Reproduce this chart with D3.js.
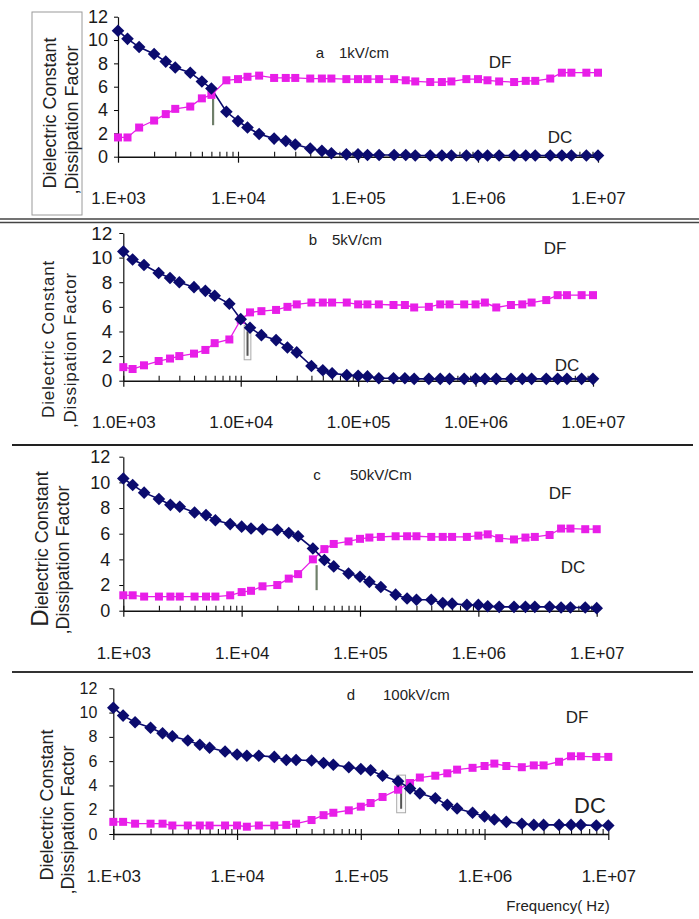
<!DOCTYPE html>
<html lang="en">
<head>
  <meta charset="utf-8" />
  <script src="https://cdn.jsdelivr.net/npm/d3@7"></script>
  <style>
    body { margin: 0; background: #fff; }
    text { font-family: "Liberation Sans", Arial, sans-serif; }
  </style>
</head>
<body>
  <div id="chart"></div>
  <script>
    'use strict';

    // sweep frequencies (Hz), same for every panel
    const freq = [
      1e3, 1.2e3, 1.5e3, 2e3, 2.5e3, 3e3, 4e3, 5e3, 6e3, 8e3,
      1e4, 1.2e4, 1.5e4, 2e4, 2.5e4, 3e4, 4e4, 5e4, 6e4, 8e4,
      1e5, 1.2e5, 1.5e5, 2e5, 2.5e5, 3e5, 4e5, 5e5, 6e5, 8e5,
      1e6, 1.2e6, 1.5e6, 2e6, 2.5e6, 3e6, 4e6, 5e6, 6e6, 8e6,
      1e7
    ];

    // a : 1kV/cm
    const dcA = [10.8, 10.1, 9.4, 8.8, 8.15, 7.65, 7.2, 6.45, 5.85, 3.85,
      3.05, 2.5, 1.95, 1.55, 1.35, 1.05, 0.7, 0.5, 0.3, 0.2,
      0.2, 0.15, 0.15, 0.15, 0.15, 0.1, 0.1, 0.1, 0.1, 0.1,
      0.1, 0.1, 0.1, 0.1, 0.1, 0.1, 0.1, 0.1, 0.1, 0.1, 0.1];
    const dfA = [1.65, 1.65, 2.5, 3.1, 3.65, 4.1, 4.3, 5.0, 5.3, 6.55,
      6.65, 6.85, 6.95, 6.75, 6.75, 6.75, 6.7, 6.7, 6.7, 6.65,
      6.65, 6.65, 6.65, 6.65, 6.55, 6.45, 6.4, 6.4, 6.45, 6.65,
      6.65, 6.55, 6.45, 6.4, 6.5, 6.5, 6.7, 7.2, 7.2, 7.2, 7.2];

    // b : 5kV/cm
    const dcB = [10.5, 9.85, 9.4, 8.75, 8.35, 8.0, 7.6, 7.3, 6.9, 6.25,
      5.0, 4.3, 3.7, 3.3, 2.7, 2.3, 1.2, 0.85, 0.6, 0.45,
      0.4, 0.35, 0.2, 0.2, 0.2, 0.15, 0.15, 0.15, 0.15, 0.15,
      0.15, 0.15, 0.15, 0.15, 0.15, 0.15, 0.15, 0.15, 0.15, 0.15, 0.15];
    const dfB = [1.1, 0.95, 1.25, 1.6, 1.8, 2.0, 2.2, 2.5, 3.05, 3.35,
      4.95, 5.55, 5.65, 5.75, 6.0, 6.2, 6.35, 6.35, 6.35, 6.35,
      6.2, 6.2, 6.2, 6.15, 6.15, 5.95, 6.0, 6.2, 6.2, 6.2,
      6.2, 6.35, 5.95, 6.15, 6.2, 6.35, 6.55, 6.95, 6.95, 6.95, 6.95];

    // c : 50kV/Cm
    const dcC = [10.3, 9.8, 9.2, 8.7, 8.25, 8.1, 7.65, 7.45, 7.05, 6.75,
      6.55, 6.4, 6.35, 6.3, 6.05, 5.8, 4.85, 3.95, 3.45, 2.9,
      2.65, 2.25, 1.85, 1.25, 0.95, 0.85, 0.85, 0.6, 0.55, 0.45,
      0.45, 0.35, 0.3, 0.3, 0.3, 0.3, 0.3, 0.25, 0.25, 0.25, 0.2];
    const dfC = [1.2, 1.2, 1.1, 1.1, 1.1, 1.1, 1.1, 1.1, 1.1, 1.2,
      1.45, 1.55, 1.9, 2.0, 2.5, 2.85, 4.0, 4.8, 5.2, 5.4,
      5.6, 5.7, 5.75, 5.8, 5.8, 5.8, 5.75, 5.75, 5.75, 5.75,
      5.85, 5.95, 5.65, 5.55, 5.7, 5.75, 5.9, 6.4, 6.4, 6.35, 6.35];

    // d : 100kV/cm
    const dcD = [10.4, 9.75, 9.2, 8.75, 8.3, 8.05, 7.7, 7.35, 7.1, 6.8,
      6.55, 6.45, 6.45, 6.35, 6.1, 6.1, 6.05, 5.85, 5.7, 5.5,
      5.35, 5.25, 4.8, 4.35, 3.75, 3.35, 2.95, 2.4, 2.1, 1.75,
      1.45, 1.2, 1.0, 0.85, 0.75, 0.75, 0.75, 0.75, 0.75, 0.7, 0.7];
    const dfD = [1.0, 1.0, 0.85, 0.85, 0.85, 0.7, 0.7, 0.7, 0.7, 0.7,
      0.7, 0.6, 0.7, 0.7, 0.75, 0.85, 1.15, 1.55, 1.75, 1.95,
      2.25, 2.55, 3.05, 3.65, 4.2, 4.65, 4.8, 5.0, 5.3, 5.45,
      5.6, 5.8, 5.6, 5.5, 5.65, 5.65, 5.95, 6.4, 6.4, 6.35, 6.35];

    const decades = [1e3, 1e4, 1e5, 1e6, 1e7];
    const xLabelsShort = ["1.E+03", "1.E+04", "1.E+05", "1.E+06", "1.E+07"];
    const xLabelsLong = ["1.0E+03", "1.0E+04", "1.0E+05", "1.0E+06", "1.0E+07"];
    const yTicks = [0, 2, 4, 6, 8, 10, 12];
    const letters = ["a", "b", "c", "d"];
    const fields = ["1kV/cm", "5kV/cm", "50kV/Cm", "100kV/cm"];
    // the little bracket drawn near each crossing: [f1, f2, v1, v2]
    const brackets = [
      [6.2e3, 6.2e3, 2.7, 5.0],
      [1.07e4, 1.22e4, 1.7, 4.5],
      [4.3e4, 4.3e4, 1.6, 3.55],
      [1.95e5, 2.3e5, 1.75, 4.85]
    ];

    const dcColor = "#0b0b6e";
    const dfColor = "#e81ee8";

    // layout of each pasted panel
    const panels = [
      { dc: dcA, df: dfA, xl: xLabelsShort, x0: 118, x1: 598, y0: 156.7, y12: 16.7,
        yFont: 18, xFont: 17, xPad: 29, yGap: 10,
        tX: 320, fX: 339, tY: 58, dfX: 500, dfY: 68, dcX: 560, dcY: 143, dcFont: 17,
        lab1: [56, 113], lab2: [78, 120], labFont: 18, spacing: 0 },
      { dc: dcB, df: dfB, xl: xLabelsLong, x0: 123.3, x1: 593, y0: 380.7, y12: 233,
        yFont: 19, xFont: 17, xPad: 29, yGap: 11,
        tX: 313, fX: 332, tY: 245, dfX: 555, dfY: 254, dcX: 567, dcY: 371, dcFont: 17,
        lab1: [54, 339], lab2: [76, 350], labFont: 17, spacing: 0.8 },
      { dc: dcC, df: dfC, xl: xLabelsShort, x0: 123.3, x1: 596.7, y0: 610.7, y12: 456.7,
        yFont: 18, xFont: 17, xPad: 30, yGap: 13,
        tX: 317, fX: 350, tY: 480, dfX: 560, dfY: 499, dcX: 573, dcY: 573, dcFont: 17,
        lab1: [48, 549], lab2: [69, 560], labFont: 18, spacing: 0, bigD: true },
      { dc: dcD, df: dfD, xl: xLabelsShort, x0: 113.3, x1: 608.3, y0: 834, y12: 688.3,
        yFont: 16, xFont: 17, xPad: 30, yGap: 16,
        tX: 351, fX: 383, tY: 700, dfX: 577, dfY: 723, dcX: 590, dcY: 813, dcFont: 22,
        lab1: [53, 805], lab2: [74, 820], labFont: 18, spacing: 0 }
    ];

    const minors = [];
    decades.slice(0, 4).forEach(d => { for (let k = 2; k < 10; k++) minors.push(d * k); });

    const svg = d3.select("#chart").append("svg")
      .attr("width", 699).attr("height", 919);

    // box around the first y title, and panel separators
    svg.append("rect").attr("x", 32).attr("y", 12).attr("width", 50).attr("height", 203)
      .attr("fill", "none").attr("stroke", "#9a9a9a").attr("stroke-width", 1);
    svg.append("line").attr("x1", 0).attr("x2", 699).attr("y1", 219).attr("y2", 219)
      .attr("stroke", "#444").attr("stroke-width", 1.5);
    svg.append("line").attr("x1", 0).attr("x2", 699).attr("y1", 222.5).attr("y2", 222.5)
      .attr("stroke", "#444").attr("stroke-width", 1.5);
    svg.append("line").attr("x1", 12).attr("x2", 693).attr("y1", 445).attr("y2", 445)
      .attr("stroke", "#222").attr("stroke-width", 2);
    svg.append("line").attr("x1", 12).attr("x2", 693).attr("y1", 672).attr("y2", 672)
      .attr("stroke", "#333").attr("stroke-width", 2);

    const diamond = "M0,-6.3L6.3,0L0,6.3L-6.3,0Z";

    panels.forEach((p, pi) => {
      const x = d3.scaleLog().domain([1e3, 1e7]).range([p.x0, p.x1]);
      const y = d3.scaleLinear().domain([0, 12]).range([p.y0, p.y12]);
      const g = svg.append("g");

      // x axis: major ticks cross the line, minor ticks point up
      const xa = g.append("g").attr("transform", `translate(0,${p.y0})`)
        .call(d3.axisBottom(x).tickValues(decades).tickFormat((d, i) => p.xl[i])
          .tickSizeInner(6).tickSizeOuter(0).tickPadding(p.xPad))
        .attr("font-family", "Liberation Sans, Arial, sans-serif")
        .attr("font-size", p.xFont);
      xa.select(".domain").attr("stroke", "#111").attr("stroke-width", 1.6);
      xa.selectAll(".tick line").attr("stroke", "#111").attr("stroke-width", 1.2);
      xa.selectAll("text").attr("fill", "#1a1a1a");
      const xm = g.append("g").attr("transform", `translate(0,${p.y0})`)
        .call(d3.axisTop(x).tickValues(minors.concat(decades)).tickFormat("")
          .tickSizeInner(5).tickSizeOuter(0));
      xm.select(".domain").remove();
      xm.selectAll(".tick line").attr("stroke", "#111").attr("stroke-width", 1.1);

      // y axis
      const ya = g.append("g").attr("transform", `translate(${p.x0},0)`)
        .call(d3.axisLeft(y).tickValues(yTicks).tickSizeInner(4).tickSizeOuter(0)
          .tickPadding(p.yGap - 4))
        .attr("font-family", "Liberation Sans, Arial, sans-serif")
        .attr("font-size", p.yFont);
      ya.select(".domain").attr("stroke", "#111").attr("stroke-width", 1.2);
      ya.selectAll("text").attr("fill", "#1a1a1a");

      // y titles
      const t1 = g.append("text")
        .attr("transform", `translate(${p.lab1[0]},${p.lab1[1]}) rotate(-90)`)
        .attr("text-anchor", "middle").attr("font-size", p.labFont)
        .attr("letter-spacing", p.spacing).attr("fill", "#222");
      if (p.bigD) {
        t1.append("tspan").attr("font-size", 24).text("D");
        t1.append("tspan").text("ielectric Constant");
      } else {
        t1.text("Dielectric Constant");
      }
      g.append("text")
        .attr("transform", `translate(${p.lab2[0]},${p.lab2[1]}) rotate(-90)`)
        .attr("text-anchor", "middle").attr("font-size", p.labFont)
        .attr("letter-spacing", p.spacing).attr("fill", "#222")
        .text(",Dissipation Factor");

      // bracket near the crossing
      const b = brackets[pi];
      if (b[0] === b[1]) {
        g.append("line").attr("x1", x(b[0])).attr("x2", x(b[0]))
          .attr("y1", y(b[3])).attr("y2", y(b[2]))
          .attr("stroke", "#6f7f6a").attr("stroke-width", 2.2);
      } else {
        g.append("rect").attr("x", x(b[0])).attr("y", y(b[3]))
          .attr("width", x(b[1]) - x(b[0])).attr("height", y(b[2]) - y(b[3]))
          .attr("fill", "#fafafa").attr("stroke", "#aaa").attr("stroke-width", 1);
        const xm2 = (x(b[0]) + x(b[1])) / 2;
        g.append("line").attr("x1", xm2).attr("x2", xm2)
          .attr("y1", y(b[3]) + 6).attr("y2", y(b[2]) - 4)
          .attr("stroke", "#555").attr("stroke-width", 2);
      }

      // series
      const line = d3.line().x((d, i) => x(freq[i])).y(d => y(d));
      g.append("path").datum(p.df).attr("d", line)
        .attr("fill", "none").attr("stroke", dfColor).attr("stroke-width", 1.3);
      g.append("path").datum(p.dc).attr("d", line)
        .attr("fill", "none").attr("stroke", dcColor).attr("stroke-width", 1.6);

      g.selectAll(null).data(p.df).join("rect")
        .attr("x", (d, i) => x(freq[i]) - 4).attr("y", d => y(d) - 4)
        .attr("width", 8).attr("height", 8).attr("fill", dfColor);
      g.selectAll(null).data(p.dc).join("path")
        .attr("d", diamond)
        .attr("transform", (d, i) => `translate(${x(freq[i])},${y(d)})`)
        .attr("fill", dcColor);

      // panel labels
      g.append("text").attr("x", p.tX).attr("y", p.tY).attr("font-size", 15)
        .attr("fill", "#222").attr("text-anchor", "middle").text(letters[pi]);
      g.append("text").attr("x", p.fX).attr("y", p.tY).attr("font-size", 15)
        .attr("fill", "#222").text(fields[pi]);
      g.append("text").attr("x", p.dfX).attr("y", p.dfY).attr("font-size", 17)
        .attr("fill", "#222").attr("text-anchor", "middle").text("DF");
      g.append("text").attr("x", p.dcX).attr("y", p.dcY).attr("font-size", p.dcFont)
        .attr("fill", "#222").attr("text-anchor", "middle").text("DC");
    });

    svg.append("text").attr("x", 558).attr("y", 911).attr("font-size", 15)
      .attr("fill", "#222").attr("text-anchor", "middle").text("Frequency( Hz)");
  </script>
</body>
</html>
